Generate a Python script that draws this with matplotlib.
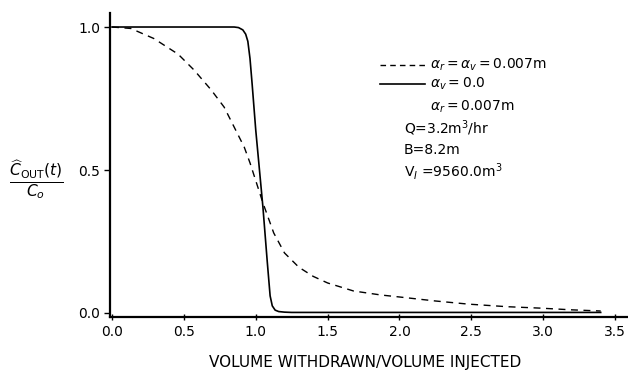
import matplotlib
matplotlib.use("Agg")
import matplotlib.pyplot as plt
from matplotlib.lines import Line2D

plt.rcParams['mathtext.fontset'] = 'dejavusans'

# dashed curve: alpha_r = alpha_v = 0.007 m
dash_x = [0.0, 0.13, 0.29, 0.46, 0.57, 0.69, 0.78, 0.85, 0.92, 0.96, 1.05, 1.125,
          1.2, 1.3, 1.4, 1.5, 1.68, 1.87, 2.0, 2.25, 2.48, 2.75, 2.98, 3.2, 3.4]
dash_y = [1.0, 0.995, 0.96, 0.905, 0.85, 0.78, 0.72, 0.65, 0.58, 0.525, 0.385, 0.28,
          0.21, 0.16, 0.128, 0.105, 0.077, 0.063, 0.056, 0.042, 0.031, 0.022, 0.017,
          0.011, 0.007]

# solid curve: alpha_v = 0.0, alpha_r = 0.007 m
solid_x = [0.0, 0.5, 0.85, 0.88, 0.91, 0.93, 0.945, 0.96, 0.975, 1.0, 1.05, 1.08,
           1.1, 1.115, 1.135, 1.16, 1.2, 1.25, 2.0, 3.4]
solid_y = [1.0, 1.0, 1.0, 0.998, 0.99, 0.975, 0.95, 0.89, 0.8, 0.64, 0.37, 0.18,
           0.06, 0.025, 0.01, 0.005, 0.003, 0.002, 0.002, 0.002]

x_ticks = [0.0, 0.5, 1.0, 1.5, 2.0, 2.5, 3.0, 3.5]
y_ticks = [0.0, 0.5, 1.0]

fig = plt.figure(figsize=(6.28, 3.72), dpi=100)
ax = fig.add_axes([110 / 628, 1 - 317 / 372, 518 / 628, 304 / 372])

ax.plot(dash_x, dash_y, color='black', lw=1.0, dashes=(5, 4))
ax.plot(solid_x, solid_y, color='black', lw=1.2)

ax.set_xlim(-0.014, 3.59)
ax.set_ylim(-0.014, 1.049)
ax.set_xticks(x_ticks)
ax.set_xticklabels([f"{v:.1f}" for v in x_ticks])
ax.set_yticks(y_ticks)
ax.set_yticklabels([f"{v:.1f}" for v in y_ticks])
ax.tick_params(axis='x', direction='inout', length=4, width=1, labelsize=10, pad=4)
ax.tick_params(axis='y', direction='out', length=4, width=1, labelsize=10, pad=3)

for s in ['top', 'right']:
    ax.spines[s].set_visible(False)
for s in ['left', 'bottom']:
    ax.spines[s].set_linewidth(1.6)

ax.set_xlabel('VOLUME WITHDRAWN/VOLUME INJECTED', fontsize=11)
ax.xaxis.set_label_coords(0.492, -0.151)
ax.xaxis.label.set_va('center')

# y label as a fraction
fig.text(36 / 628, 1 - 180 / 372, r'$\frac{\widehat{C}_{\mathrm{OUT}}(t)}{C_o}$',
         fontsize=16, ha='center', va='center')

# legend and parameters
def px(x, y):
    return x / 628, 1 - y / 372

fig.add_artist(Line2D([px(380, 0)[0], px(425, 0)[0]], [px(0, 65)[1]] * 2,
                      color='black', lw=1.0, dashes=(4, 3)))
fig.add_artist(Line2D([px(380, 0)[0], px(425, 0)[0]], [px(0, 84)[1]] * 2,
                      color='black', lw=1.2))

labels = [
    (430, 65, r'$\alpha_r = \alpha_v = 0.007$m'),
    (430, 84, r'$\alpha_v = 0.0$'),
    (430, 107, r'$\alpha_r = 0.007$m'),
    (404, 128, r'Q=3.2m$^3$/hr'),
    (404, 150, 'B=8.2m'),
    (404, 172, r'V$_I$ =9560.0m$^3$'),
]
for lx, ly, txt in labels:
    fx, fy = px(lx, ly)
    fig.text(fx, fy, txt, fontsize=10, ha='left', va='center')

fig.savefig('out.png', dpi=100, facecolor='white')
